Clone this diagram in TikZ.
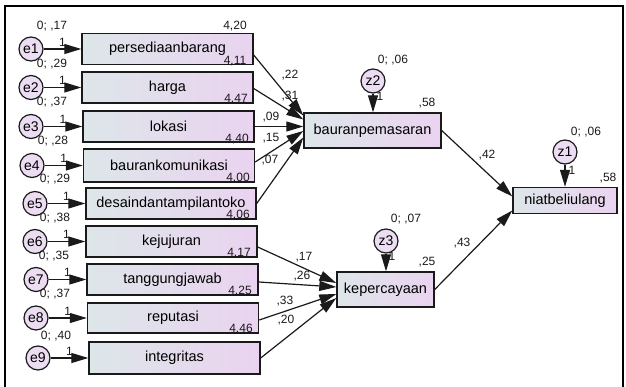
\documentclass[tikz,border=0pt]{standalone}
\usepackage{fontspec}
\setmainfont{Liberation Sans}
\usetikzlibrary{arrows.meta}
\definecolor{boxL}{HTML}{DDE6E9}
\definecolor{boxR}{HTML}{EAD3F0}
\definecolor{circF}{HTML}{ECDDF2}
\definecolor{ink}{HTML}{1A1A1A}
\tikzset{
  obs/.style={draw=ink, line width=1.4pt, left color=boxL, right color=boxR,
    minimum width=171pt, minimum height=31pt, inner sep=0pt,
    font=\fontsize{14.5}{16}\selectfont},
  err/.style={circle, draw=ink, line width=1.2pt, fill=circF, minimum size=24pt,
    inner sep=0pt, font=\fontsize{14}{15}\selectfont},
  lab/.style={font=\fontsize{12}{13}\selectfont, inner sep=0pt, text=ink},
  arr/.style={draw=ink, line width=1.2pt, -{Triangle[length=17pt 0,width=10pt 0]}},
}
\begin{document}
\begin{tikzpicture}[x=1pt,y=-1pt]
\useasboundingbox (0,0) rectangle (626,387);
\draw[line width=2pt] (5,387) -- (5,6) -- (623,6) -- (623,387);

% observed boxes
\node[obs] (b1) at (167.5,49) {persediaanbarang};
\node[obs] (b2) at (167.5,87.5) {harga};
\node[obs] (b3) at (168.5,126.5) {lokasi};
\node[obs, minimum height=33pt] (b4) at (169,165.5) {baurankomunikasi};
\node[obs, minimum width=170pt] (b5) at (171,203.5) {desaindantampilantoko};
\node[obs] (b6) at (171.5,241.5) {kejujuran};
\node[obs] (b7) at (172.5,279.5) {tanggungjawab};
\node[obs, minimum height=30pt] (b8) at (173,318) {reputasi};
\node[obs, minimum height=32pt] (b9) at (174.5,358) {integritas};

% latent / endogenous boxes
\node[obs, minimum width=137pt, minimum height=35pt] (bp) at (372.5,130.5) {bauranpemasaran};
\node[obs, minimum width=97pt, minimum height=35pt] (kp) at (385.5,289.5) {kepercayaan};
\node[obs, minimum width=104pt, minimum height=26pt] (nb) at (565,200.5) {niatbeliulang};

% error circles
\node[err] (e1) at (31,49) {e1};
\node[err] (e2) at (31,87.5) {e2};
\node[err] (e3) at (31,126.5) {e3};
\node[err] (e4) at (32,165.5) {e4};
\node[err] (e5) at (35,203.5) {e5};
\node[err] (e6) at (35,241.5) {e6};
\node[err] (e7) at (36,279.5) {e7};
\node[err] (e8) at (36,318) {e8};
\node[err] (e9) at (38,358) {e9};
\node[err] (z2) at (373,81) {z2};
\node[err] (z3) at (386,241) {z3};
\node[err] (z1) at (565,152) {z1};

% error arrows with "1"
\foreach \i in {1,...,9}{
  \draw[arr] (e\i.east) -- node[lab, pos=0.5, above=2pt] {1} (e\i.east -| b\i.west);
}
\draw[arr] (z2.south) -- (z2.south |- bp.north);
\draw[arr] (z3.south) -- (z3.south |- kp.north);
\draw[arr] (z1.south) -- (z1.south |- nb.north);
\node[lab] (z2one) at (380,96) {1};
\node[lab] (z3one) at (392,256) {1};
\node[lab] (z1one) at (572,170) {1};

% variances
\node[lab] (v1) at (52,26) {0; ,17};
\node[lab] (v2) at (52,64) {0; ,29};
\node[lab] (v3) at (52,102) {0; ,37};
\node[lab] (v4) at (53,141) {0; ,28};
\node[lab] (v5) at (55,179) {0; ,29};
\node[lab] (v6) at (55,218) {0; ,38};
\node[lab] (v7) at (54,256) {0; ,35};
\node[lab] (v8) at (55,294) {0; ,37};
\node[lab] (v9) at (56,336) {0; ,40};
\node[lab] (vz2) at (393,60) {0; ,06};
\node[lab] (vz3) at (406,219) {0; ,07};
\node[lab] (vz1) at (586,132) {0; ,06};

% intercepts
\node[lab] (i1) at (235,26) {4,20};
\node[lab] (i2) at (235,61) {4,11};
\node[lab] (i3) at (236,99) {4,47};
\node[lab] (i4) at (237,139) {4,40};
\node[lab] (i5) at (238,178) {4,00};
\node[lab] (i6) at (238,215) {4,06};
\node[lab] (i7) at (239,253) {4,17};
\node[lab] (i8) at (240,291) {4,25};
\node[lab] (i9) at (241,329) {4,46};
\node[lab] (rbp) at (427,103) {,58};
\node[lab] (rkp) at (427,262) {,25};
\node[lab] (rnb) at (608,178) {,58};

% structural paths
\draw[arr] ([yshift=-6pt]b1.east) -- ([yshift=15pt]bp.west);
\draw[arr] ([yshift=-1pt]b2.east) -- ([yshift=11pt]bp.west);
\draw[arr] (b3.east) -- ([yshift=4pt]bp.west);
\draw[arr] ([yshift=3.5pt]b4.east) -- ([yshift=-0.5pt]bp.west);
\draw[arr] (b5.east) -- ([yshift=-7pt]bp.west);
\draw[arr] ([yshift=-5.5pt]b6.east) -- ([yshift=6.5pt]kp.west);
\draw[arr] ([yshift=-2.5pt]b7.east) -- ([yshift=2.5pt]kp.west);
\draw[arr] ([yshift=-2pt]b8.east) -- ([yshift=-4.5pt]kp.west);
\draw[arr] (b9.east) -- ([yshift=-8.5pt]kp.west);
\draw[arr] (bp.east) -- ([yshift=4pt]nb.west);
\draw[arr] (kp.east) -- ([yshift=-10pt]nb.west);

% path coefficients
\node[lab] (p1) at (290,75) {,22};
\node[lab] (p2) at (290,96) {,31};
\node[lab] (p3) at (271,117) {,09};
\node[lab] (p4) at (271,138) {,15};
\node[lab] (p5) at (270,160) {,07};
\node[lab] (p6) at (304,257) {,17};
\node[lab] (p7) at (302,276) {,26};
\node[lab] (p8) at (285,301) {,33};
\node[lab] (p9) at (286,320) {,20};
\node[lab] (p10) at (487,155) {,42};
\node[lab] (p11) at (462,243) {,43};
\end{tikzpicture}
\end{document}
